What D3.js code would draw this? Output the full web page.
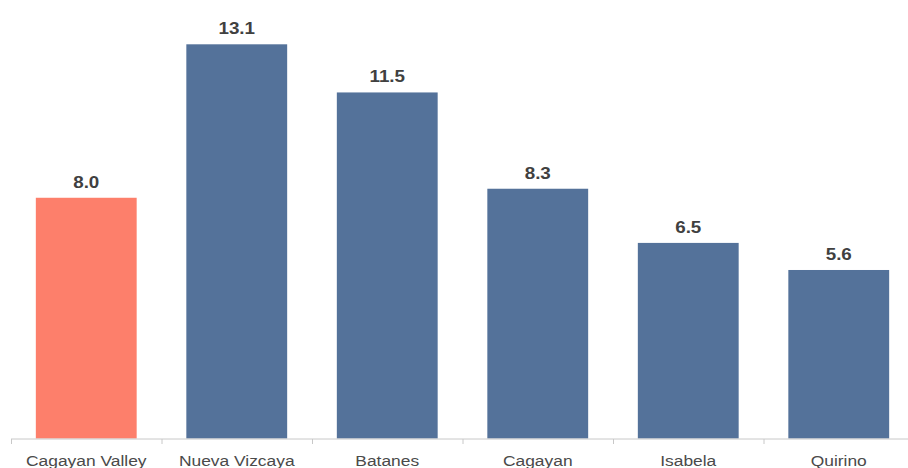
<!DOCTYPE html>
<html>
<head>
<meta charset="utf-8">
<script src="https://cdn.jsdelivr.net/npm/d3@7"></script>
<style>
  body { margin: 0; background: #fff; }
  #plot { width: 908px; height: 468px; }
  text { font-family: "Liberation Sans", Arial, sans-serif; }
</style>
</head>
<body>
<div id="plot"></div>
<script>
// data
var provinces = ['Cagayan Valley', 'Nueva Vizcaya', 'Batanes', 'Cagayan', 'Isabela', 'Quirino'];
var rates = [8.0, 13.1, 11.5, 8.3, 6.5, 5.6];
var highlight = ['Cagayan Valley'];

var width = 908, height = 468;
var baseline = 438.5;

var svg = d3.select('#plot')
    .append('svg')
    .attr('width', width)
    .attr('height', height);

var x = d3.scaleBand()
    .domain(provinces)
    .range([11, 914])
    .paddingInner(0.33)
    .paddingOuter(0.165);

var y = d3.scaleLinear()
    .domain([0, 13.1])
    .range([baseline, 44.3]);

var data = provinces.map(function (p, i) { return {name: p, value: rates[i]}; });

// bars
svg.selectAll('rect.bar')
    .data(data)
    .enter()
    .append('rect')
    .attr('class', 'bar')
    .attr('x', function (d) { return x(d.name); })
    .attr('y', function (d) { return y(d.value); })
    .attr('width', x.bandwidth())
    .attr('height', function (d) { return baseline - y(d.value); })
    .style('fill', function (d) { return highlight.indexOf(d.name) > -1 ? '#fd7f6b' : '#54729a'; });

// value labels (the scan is a little stretched sideways, so widen the text)
svg.selectAll('text.val')
    .data(data)
    .enter()
    .append('text')
    .attr('class', 'val')
    .attr('transform', function (d) {
        return 'translate(' + (x(d.name) + x.bandwidth() / 2) + ',' + (y(d.value) - 10) + ') scale(1.14,1)';
    })
    .attr('text-anchor', 'middle')
    .style('font-size', '16.5px')
    .style('font-weight', 'bold')
    .style('fill', '#404040')
    .text(function (d) { return d.value.toFixed(1); });

// x axis, ticks between categories
var axis = svg.append('g').attr('transform', 'translate(0,' + (baseline + 0.5) + ')');
axis.append('line')
    .attr('x1', 11).attr('x2', 914)
    .style('stroke', '#c8c8c8').style('stroke-width', 1);

var step = x.step();
axis.selectAll('line.tick')
    .data(d3.range(provinces.length + 1))
    .enter()
    .append('line')
    .attr('class', 'tick')
    .attr('x1', function (i) { return 11.5 + i * step; })
    .attr('x2', function (i) { return 11.5 + i * step; })
    .attr('y1', 0).attr('y2', 5)
    .style('stroke', '#c8c8c8');

axis.selectAll('text.cat')
    .data(provinces)
    .enter()
    .append('text')
    .attr('class', 'cat')
    .attr('transform', function (d) {
        return 'translate(' + (x(d) + x.bandwidth() / 2) + ',27) scale(1.2,1)';
    })
    .attr('text-anchor', 'middle')
    .style('font-size', '14.5px')
    .style('fill', '#4a4a4a')
    .text(function (d) { return d; });
</script>
</body>
</html>
